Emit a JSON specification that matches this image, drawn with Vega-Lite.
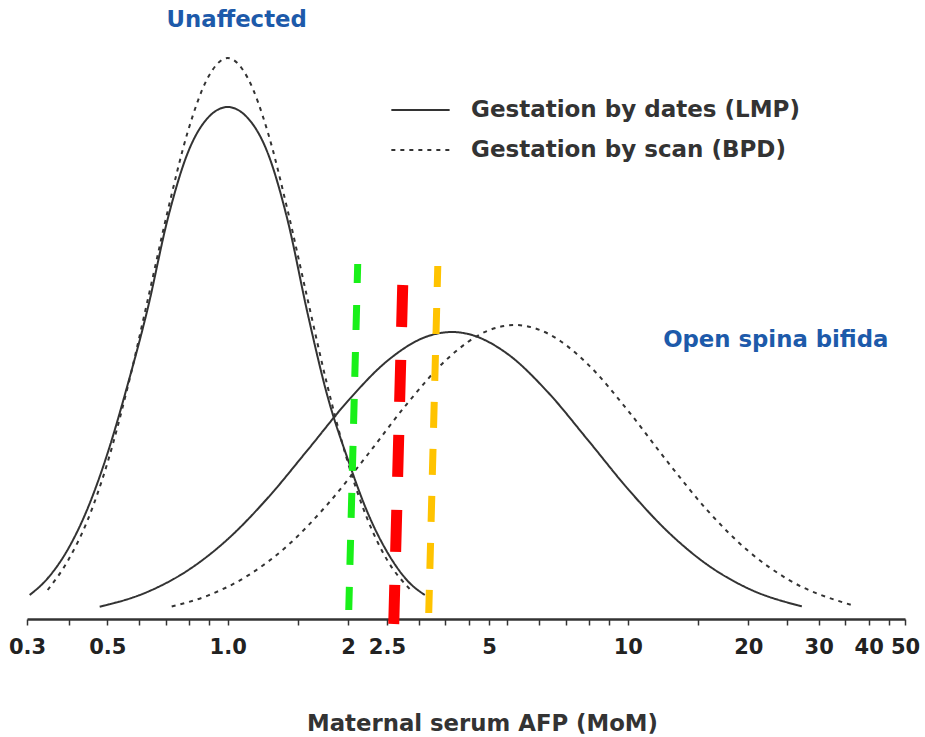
{
  "$schema": "https://vega.github.io/schema/vega-lite/v6.json",
  "width": 878,
  "height": 619,
  "autosize": {"type": "none"},
  "padding": {"left": 27, "top": 0, "right": 20, "bottom": 118},
  "background": "white",
  "config": {"view": {"stroke": null}, "font": "DejaVu Sans"},
  "datasets": {
    "curves": [
      {"group": "Unaffected", "method": "Gestation by dates (LMP)", "mom": 0.3199, "freq": 24},
      {"group": "Unaffected", "method": "Gestation by dates (LMP)", "mom": 0.3548, "freq": 40.7},
      {"group": "Unaffected", "method": "Gestation by dates (LMP)", "mom": 0.3981, "freq": 69.3},
      {"group": "Unaffected", "method": "Gestation by dates (LMP)", "mom": 0.4467, "freq": 110.7},
      {"group": "Unaffected", "method": "Gestation by dates (LMP)", "mom": 0.5012, "freq": 166.2},
      {"group": "Unaffected", "method": "Gestation by dates (LMP)", "mom": 0.5623, "freq": 234.4},
      {"group": "Unaffected", "method": "Gestation by dates (LMP)", "mom": 0.631, "freq": 310.5},
      {"group": "Unaffected", "method": "Gestation by dates (LMP)", "mom": 0.7079, "freq": 400},
      {"group": "Unaffected", "method": "Gestation by dates (LMP)", "mom": 0.7943, "freq": 466},
      {"group": "Unaffected", "method": "Gestation by dates (LMP)", "mom": 0.8913, "freq": 501},
      {"group": "Unaffected", "method": "Gestation by dates (LMP)", "mom": 1.0, "freq": 512},
      {"group": "Unaffected", "method": "Gestation by dates (LMP)", "mom": 1.122, "freq": 501},
      {"group": "Unaffected", "method": "Gestation by dates (LMP)", "mom": 1.259, "freq": 466},
      {"group": "Unaffected", "method": "Gestation by dates (LMP)", "mom": 1.413, "freq": 398},
      {"group": "Unaffected", "method": "Gestation by dates (LMP)", "mom": 1.585, "freq": 305},
      {"group": "Unaffected", "method": "Gestation by dates (LMP)", "mom": 1.778, "freq": 222},
      {"group": "Unaffected", "method": "Gestation by dates (LMP)", "mom": 1.995, "freq": 160},
      {"group": "Unaffected", "method": "Gestation by dates (LMP)", "mom": 2.239, "freq": 106},
      {"group": "Unaffected", "method": "Gestation by dates (LMP)", "mom": 2.512, "freq": 66},
      {"group": "Unaffected", "method": "Gestation by dates (LMP)", "mom": 2.818, "freq": 38},
      {"group": "Unaffected", "method": "Gestation by dates (LMP)", "mom": 3.109, "freq": 24},

      {"group": "Unaffected", "method": "Gestation by scan (BPD)", "mom": 0.3548, "freq": 29},
      {"group": "Unaffected", "method": "Gestation by scan (BPD)", "mom": 0.3981, "freq": 58},
      {"group": "Unaffected", "method": "Gestation by scan (BPD)", "mom": 0.4467, "freq": 99},
      {"group": "Unaffected", "method": "Gestation by scan (BPD)", "mom": 0.5012, "freq": 157},
      {"group": "Unaffected", "method": "Gestation by scan (BPD)", "mom": 0.5623, "freq": 232},
      {"group": "Unaffected", "method": "Gestation by scan (BPD)", "mom": 0.631, "freq": 319},
      {"group": "Unaffected", "method": "Gestation by scan (BPD)", "mom": 0.7079, "freq": 408},
      {"group": "Unaffected", "method": "Gestation by scan (BPD)", "mom": 0.7943, "freq": 487},
      {"group": "Unaffected", "method": "Gestation by scan (BPD)", "mom": 0.8913, "freq": 541},
      {"group": "Unaffected", "method": "Gestation by scan (BPD)", "mom": 1.0, "freq": 561},
      {"group": "Unaffected", "method": "Gestation by scan (BPD)", "mom": 1.122, "freq": 541},
      {"group": "Unaffected", "method": "Gestation by scan (BPD)", "mom": 1.259, "freq": 487},
      {"group": "Unaffected", "method": "Gestation by scan (BPD)", "mom": 1.413, "freq": 408},
      {"group": "Unaffected", "method": "Gestation by scan (BPD)", "mom": 1.585, "freq": 319},
      {"group": "Unaffected", "method": "Gestation by scan (BPD)", "mom": 1.778, "freq": 232},
      {"group": "Unaffected", "method": "Gestation by scan (BPD)", "mom": 1.995, "freq": 157},
      {"group": "Unaffected", "method": "Gestation by scan (BPD)", "mom": 2.239, "freq": 99},
      {"group": "Unaffected", "method": "Gestation by scan (BPD)", "mom": 2.512, "freq": 58},
      {"group": "Unaffected", "method": "Gestation by scan (BPD)", "mom": 2.851, "freq": 30},

      {"group": "Open spina bifida", "method": "Gestation by dates (LMP)", "mom": 0.4786, "freq": 12.2},
      {"group": "Open spina bifida", "method": "Gestation by dates (LMP)", "mom": 0.631, "freq": 27.2},
      {"group": "Open spina bifida", "method": "Gestation by dates (LMP)", "mom": 0.794, "freq": 48.5},
      {"group": "Open spina bifida", "method": "Gestation by dates (LMP)", "mom": 1.0, "freq": 79.8},
      {"group": "Open spina bifida", "method": "Gestation by dates (LMP)", "mom": 1.259, "freq": 121},
      {"group": "Open spina bifida", "method": "Gestation by dates (LMP)", "mom": 1.585, "freq": 169.1},
      {"group": "Open spina bifida", "method": "Gestation by dates (LMP)", "mom": 1.995, "freq": 217.8},
      {"group": "Open spina bifida", "method": "Gestation by dates (LMP)", "mom": 2.512, "freq": 258.5},
      {"group": "Open spina bifida", "method": "Gestation by dates (LMP)", "mom": 3.162, "freq": 282.8},
      {"group": "Open spina bifida", "method": "Gestation by dates (LMP)", "mom": 3.631, "freq": 287},
      {"group": "Open spina bifida", "method": "Gestation by dates (LMP)", "mom": 3.981, "freq": 285.1},
      {"group": "Open spina bifida", "method": "Gestation by dates (LMP)", "mom": 5.012, "freq": 264.9},
      {"group": "Open spina bifida", "method": "Gestation by dates (LMP)", "mom": 6.31, "freq": 226.9},
      {"group": "Open spina bifida", "method": "Gestation by dates (LMP)", "mom": 7.943, "freq": 179.1},
      {"group": "Open spina bifida", "method": "Gestation by dates (LMP)", "mom": 10, "freq": 130.2},
      {"group": "Open spina bifida", "method": "Gestation by dates (LMP)", "mom": 12.59, "freq": 87.3},
      {"group": "Open spina bifida", "method": "Gestation by dates (LMP)", "mom": 15.85, "freq": 53.9},
      {"group": "Open spina bifida", "method": "Gestation by dates (LMP)", "mom": 19.95, "freq": 30.7},
      {"group": "Open spina bifida", "method": "Gestation by dates (LMP)", "mom": 27.23, "freq": 12.6},

      {"group": "Open spina bifida", "method": "Gestation by scan (BPD)", "mom": 0.7244, "freq": 12.5},
      {"group": "Open spina bifida", "method": "Gestation by scan (BPD)", "mom": 0.8913, "freq": 23.4},
      {"group": "Open spina bifida", "method": "Gestation by scan (BPD)", "mom": 1.122, "freq": 43.3},
      {"group": "Open spina bifida", "method": "Gestation by scan (BPD)", "mom": 1.413, "freq": 73.6},
      {"group": "Open spina bifida", "method": "Gestation by scan (BPD)", "mom": 1.778, "freq": 114.9},
      {"group": "Open spina bifida", "method": "Gestation by scan (BPD)", "mom": 2.239, "freq": 164.5},
      {"group": "Open spina bifida", "method": "Gestation by scan (BPD)", "mom": 2.818, "freq": 216.1},
      {"group": "Open spina bifida", "method": "Gestation by scan (BPD)", "mom": 3.548, "freq": 260.6},
      {"group": "Open spina bifida", "method": "Gestation by scan (BPD)", "mom": 4.467, "freq": 288.3},
      {"group": "Open spina bifida", "method": "Gestation by scan (BPD)", "mom": 5.218, "freq": 294},
      {"group": "Open spina bifida", "method": "Gestation by scan (BPD)", "mom": 6.31, "freq": 285.5},
      {"group": "Open spina bifida", "method": "Gestation by scan (BPD)", "mom": 7.943, "freq": 254.8},
      {"group": "Open spina bifida", "method": "Gestation by scan (BPD)", "mom": 10, "freq": 208.6},
      {"group": "Open spina bifida", "method": "Gestation by scan (BPD)", "mom": 12.59, "freq": 156.8},
      {"group": "Open spina bifida", "method": "Gestation by scan (BPD)", "mom": 15.85, "freq": 108.1},
      {"group": "Open spina bifida", "method": "Gestation by scan (BPD)", "mom": 19.95, "freq": 68.4},
      {"group": "Open spina bifida", "method": "Gestation by scan (BPD)", "mom": 25.12, "freq": 39.7},
      {"group": "Open spina bifida", "method": "Gestation by scan (BPD)", "mom": 36.52, "freq": 13.6}
    ],
    "markers": [
      {"marker": "green", "mom_top": 2.113, "mom_bottom": 2.007, "top": 355, "bottom": 9},
      {"marker": "red", "mom_top": 2.738, "mom_bottom": 2.6, "top": 334, "bottom": -5},
      {"marker": "orange", "mom_top": 3.35, "mom_bottom": 3.18, "top": 353, "bottom": 6}
    ],
    "labels": [
      {"label": "Unaffected", "mom": 1.053, "freq": 599},
      {"label": "Open spina bifida", "mom": 23.44, "freq": 279}
    ]
  },
  "layer": [
    {
      "data": {"name": "curves"},
      "mark": {"type": "line", "interpolate": "monotone", "strokeWidth": 2, "color": "#333333"},
      "encoding": {
        "x": {
          "field": "mom",
          "type": "quantitative",
          "scale": {"type": "log", "domain": [0.315, 49.3], "nice": false},
          "axis": {
            "title": "Maternal serum AFP (MoM)",
            "values": [0.315, 0.4, 0.5, 0.6, 0.7, 0.8, 0.9, 1, 1.5, 2, 2.5, 3, 3.5, 4, 4.5, 5, 6, 7, 8, 9, 10, 15, 20, 25, 30, 35, 40, 45, 49.3],
            "labelExpr": "datum.value == 0.315 ? '0.3' : datum.value == 0.5 ? '0.5' : datum.value == 1 ? '1.0' : datum.value == 2 ? '2' : datum.value == 2.5 ? '2.5' : datum.value == 4.5 ? '5' : datum.value == 10 ? '10' : datum.value == 20 ? '20' : datum.value == 30 ? '30' : datum.value == 40 ? '40' : datum.value == 49.3 ? '50' : ''",
            "grid": false,
            "domainColor": "#333333",
            "domainWidth": 2.5,
            "tickColor": "#333333",
            "tickWidth": 1.5,
            "tickSize": 6,
            "labelFont": "DejaVu Sans",
            "labelFontWeight": "bold",
            "labelFontSize": 21,
            "labelColor": "#222222",
            "labelPadding": 11,
            "labelFlush": false,
            "labelOverlap": false,
            "titleFont": "DejaVu Sans",
            "titleFontWeight": "bold",
            "titleFontSize": 22.8,
            "titleColor": "#333333",
            "titlePadding": 55,
            "titleX": 455
          }
        },
        "y": {"field": "freq", "type": "quantitative", "scale": {"domain": [0, 619], "nice": false}, "axis": null},
        "detail": {"field": "group"},
        "strokeDash": {
          "field": "method",
          "type": "nominal",
          "scale": {"domain": ["Gestation by dates (LMP)", "Gestation by scan (BPD)"], "range": [[1, 0], [4, 5]]},
          "legend": {
            "title": null,
            "orient": "none",
            "legendX": 363,
            "legendY": 100,
            "padding": 0,
            "symbolType": "stroke",
            "symbolSize": 3400,
            "symbolStrokeWidth": 2,
            "symbolStrokeColor": "#333333",
            "labelFont": "DejaVu Sans",
            "labelFontWeight": "bold",
            "labelFontSize": 23,
            "labelColor": "#333333",
            "labelOffset": 20,
            "labelLimit": 600,
            "clipHeight": 20,
            "rowPadding": 17
          }
        }
      }
    },
    {
      "data": {"name": "markers"},
      "transform": [{"filter": "datum.marker == 'green'"}],
      "mark": {"type": "rule", "color": "#19f019", "strokeWidth": 7, "strokeDash": [25, 22], "strokeDashOffset": 6, "strokeCap": "butt"},
      "encoding": {
        "x": {"field": "mom_top", "type": "quantitative", "title": "Maternal serum AFP (MoM)"},
        "x2": {"field": "mom_bottom"},
        "y": {"field": "top", "type": "quantitative", "axis": null},
        "y2": {"field": "bottom"}
      }
    },
    {
      "data": {"name": "markers"},
      "transform": [{"filter": "datum.marker == 'red'"}],
      "mark": {"type": "rule", "color": "#ff0000", "strokeWidth": 11, "strokeDash": [42, 33], "strokeCap": "butt"},
      "encoding": {
        "x": {"field": "mom_top", "type": "quantitative", "title": "Maternal serum AFP (MoM)"},
        "x2": {"field": "mom_bottom"},
        "y": {"field": "top", "type": "quantitative", "axis": null},
        "y2": {"field": "bottom"}
      }
    },
    {
      "data": {"name": "markers"},
      "transform": [{"filter": "datum.marker == 'orange'"}],
      "mark": {"type": "rule", "color": "#ffc300", "strokeWidth": 7, "strokeDash": [26, 21], "strokeDashOffset": 5, "strokeCap": "butt"},
      "encoding": {
        "x": {"field": "mom_top", "type": "quantitative", "title": "Maternal serum AFP (MoM)"},
        "x2": {"field": "mom_bottom"},
        "y": {"field": "top", "type": "quantitative", "axis": null},
        "y2": {"field": "bottom"}
      }
    },
    {
      "data": {"name": "labels"},
      "mark": {"type": "text", "font": "DejaVu Sans", "fontWeight": "bold", "fontSize": 22.8, "color": "#1d5aaa", "baseline": "middle", "align": "center"},
      "encoding": {
        "x": {"field": "mom", "type": "quantitative", "title": "Maternal serum AFP (MoM)"},
        "y": {"field": "freq", "type": "quantitative", "axis": null},
        "text": {"field": "label"}
      }
    }
  ]
}
